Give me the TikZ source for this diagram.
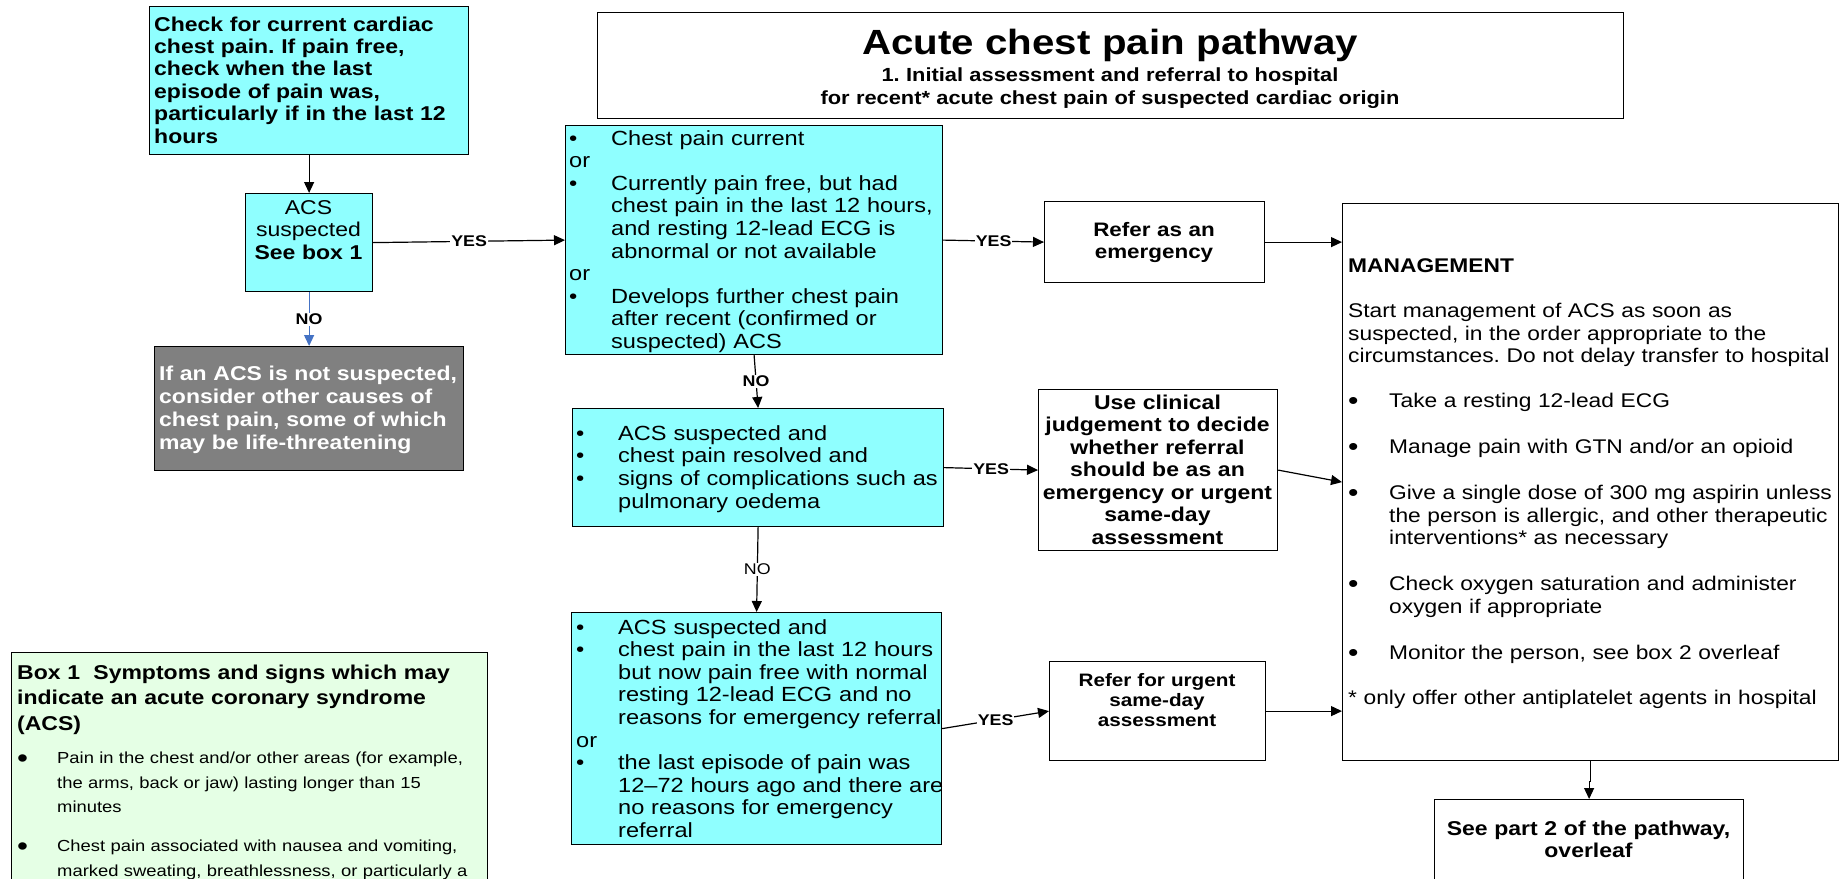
\documentclass[tikz,border=0pt]{standalone}
\usepackage{fontspec}
\usepackage{graphicx}
\setmainfont{Liberation Sans}[FakeStretch=1.15]
\usetikzlibrary{arrows.meta}
\definecolor{cyanbox}{RGB}{143,255,255}
\definecolor{greybox}{RGB}{128,128,128}
\definecolor{greenbox}{RGB}{229,255,229}
\definecolor{noblue}{RGB}{68,114,196}
\newcommand\fsz[2]{\fontsize{#1}{#2}\selectfont}
\newcommand\bdot{\raisebox{-0.1em}{\scalebox{1.3}{\textbullet}}}
\newcommand\Bdot{\raisebox{-0.27em}{\scalebox{1.7}{\textbullet}}}
\newcommand\sblt[1][42pt]{\makebox[#1][l]{\textbullet}}
\newcommand\blt[1][42pt]{\makebox[#1][l]{\bdot}}
\newcommand\Blt[1][40pt]{\makebox[#1][l]{\Bdot}}
\newcommand\hng[1][42pt]{\hspace*{#1}}
\tikzset{
  box/.style={draw=black, line width=1.2pt, anchor=north west, inner sep=0pt, fill=white},
  cbox/.style={box, fill=cyanbox},
  txt/.style={anchor=base west, inner sep=0pt, align=left},
  ctxt/.style={anchor=base, inner sep=0pt, align=center},
  conn/.style={line width=1.2pt, -{Triangle[length=11pt,width=10pt]}},
  lab/.style={fill=white, inner sep=1pt, font=\bfseries\fsz{15.5}{16}},
}
\begin{document}
\frenchspacing
\begin{tikzpicture}[x=1pt,y=-1pt]
\path[use as bounding box] (0,0) rectangle (1843,878);
\clip (0,0) rectangle (1843,878);
\fill[white] (0,0) rectangle (1843,878);

% boxes
\node[cbox, minimum width=319pt, minimum height=148pt] (check) at (149,6) {};
\node[txt, text width=308pt, font=\bfseries\fsz{20}{22.4}] (checkt) at (154,31) {Check for current cardiac\\chest pain. If pain free,\\check when the last\\episode of pain was,\\particularly if in the last 12\\hours};

\node[cbox, minimum width=127pt, minimum height=98pt] (acs) at (245,193) {};
\node[ctxt, font=\fsz{20}{22.5}, text width=120pt] (acst) at (308.5,214) {ACS\\suspected\\\textbf{See box 1}};

\node[box, fill=greybox, minimum width=309pt, minimum height=124pt] (grey) at (154,346) {};
\node[txt, text width=300pt, text=white, font=\bfseries\fsz{20}{23}] (greyt) at (159,380) {If an ACS is not suspected,\\consider other causes of\\chest pain, some of which\\may be life-threatening};

\node[box, minimum width=1026pt, minimum height=106pt] (title) at (597,12) {};
\node[ctxt, font=\bfseries\fsz{35}{40}, text width=1000pt] (titlet) at (1110,54.5) {Acute chest pain pathway};
\node[ctxt, font=\bfseries\fsz{19}{23}, text width=1000pt] (subt) at (1110,81) {1. Initial assessment and referral to hospital\\for recent* acute chest pain of suspected cardiac origin};

\node[cbox, minimum width=377pt, minimum height=229pt] (A) at (565,125) {};
\node[txt, text width=371pt, font=\fsz{20.5}{22.6}] (At) at (569,145) {\sblt Chest pain current\\or\\\sblt Currently pain free, but had\\\hng chest pain in the last 12 hours,\\\hng and resting 12-lead ECG is\\\hng abnormal or not available\\or\\\sblt Develops further chest pain\\\hng after recent (confirmed or\\\hng suspected) ACS};

\node[cbox, minimum width=371pt, minimum height=118pt] (B) at (572,408) {};
\node[txt, text width=368pt, font=\fsz{20.5}{22.7}] (Bt) at (576,440) {\sblt ACS suspected and\\\sblt chest pain resolved and\\\sblt signs of complications such as\\\hng pulmonary oedema};

\node[cbox, minimum width=370pt, minimum height=232pt] (C) at (571,612) {};
\node[txt, text width=372pt, font=\fsz{20.5}{22.6}] (Ct) at (576,634) {\sblt ACS suspected and\\\sblt chest pain in the last 12 hours\\\hng but now pain free with normal\\\hng resting 12-lead ECG and no\\\hng reasons for emergency referral\\or\\\sblt the last episode of pain was\\\hng 12--72 hours ago and there are\\\hng no reasons for emergency\\\hng referral};

\node[box, minimum width=220pt, minimum height=81pt] (refE) at (1044,201) {};
\node[ctxt, font=\bfseries\fsz{19.5}{22}, text width=200pt] (refEt) at (1154,236.5) {Refer as an\\emergency};

\node[box, minimum width=239pt, minimum height=161pt] (use) at (1038,389) {};
\node[ctxt, font=\bfseries\fsz{20}{22.5}, text width=234pt] (uset) at (1157.5,409) {Use clinical\\judgement to decide\\whether referral\\should be as an\\emergency or urgent\\same-day\\assessment};

\node[box, minimum width=216pt, minimum height=99pt] (refU) at (1049,661) {};
\node[ctxt, font=\bfseries\fsz{18}{20}, text width=200pt] (refUt) at (1157,686) {Refer for urgent\\same-day\\assessment};

\node[box, minimum width=496pt, minimum height=557pt] (mgmt) at (1342,203) {};
\node[txt, text width=488pt, font=\fsz{19.8}{22.7}] (mgmtt) at (1348,272) {\textbf{MANAGEMENT}\\[22.8pt]Start management of ACS as soon as\\suspected, in the order appropriate to the\\circumstances. Do not delay transfer to hospital\\[21.8pt]\blt[41pt]Take a resting 12-lead ECG\\[23.3pt]\blt[41pt]Manage pain with GTN and/or an opioid\\[23.3pt]\blt[41pt]Give a single dose of 300 mg aspirin unless\\\hng[41pt]the person is allergic, and other therapeutic\\\hng[41pt]interventions* as necessary\\[23.3pt]\blt[41pt]Check oxygen saturation and administer\\\hng[41pt]oxygen if appropriate\\[23.3pt]\blt[41pt]Monitor the person, see box 2 overleaf\\[22.3pt]* only offer other antiplatelet agents in hospital};

\node[box, minimum width=309pt, minimum height=120pt] (see) at (1434,799) {};
\node[ctxt, font=\bfseries\fsz{20}{22}, text width=300pt] (seet) at (1588.5,835) {See part 2 of the pathway,\\overleaf};

\node[box, fill=greenbox, minimum width=476pt, minimum height=260pt] (box1) at (11,652) {};
\node[txt, text width=462pt, font=\bfseries\fsz{20}{25.5}] (box1h) at (17,679) {Box 1\ \ Symptoms and signs which may\\indicate an acute coronary syndrome\\(ACS)};
\node[txt, text width=462pt, font=\fsz{16}{24.5}] (box1t) at (17,763.5) {\Blt[40pt]Pain in the chest and/or other areas (for example,\\\hng[40pt]the arms, back or jaw) lasting longer than 15\\\hng[40pt]minutes\\[14.5pt]\Blt[40pt]Chest pain associated with nausea and vomiting,\\\hng[40pt]marked sweating, breathlessness, or particularly a};

% connectors
\draw[conn] (check.south) -- (acs.north);
\draw[conn] (acs.east) -- node[lab]{YES} (A.west);
\draw[conn, draw=noblue, fill=noblue] (acs.south) -- node[lab]{NO} (grey.north);
\draw[conn] (A.east) -- node[lab]{YES} (refE.west);
\draw[conn] (refE.east) -- (refE.east -| mgmt.west);
\draw[conn] (A.south) -- node[lab]{NO} (B.north);
\draw[conn] (B.east) -- node[lab]{YES} (use.west);
\draw[conn] (use.east) -- (mgmt.west);
\draw[conn] (B.south) -- node[lab, font=\fsz{15.5}{16}]{NO} (C.north);
\draw[conn] (C.east) -- node[lab]{YES} (refU.west);
\draw[conn] (refU.east) -- (refU.east -| mgmt.west);
\draw[conn] (mgmt.south) -- ++(0,20) -| (see.north);
\end{tikzpicture}
\end{document}
